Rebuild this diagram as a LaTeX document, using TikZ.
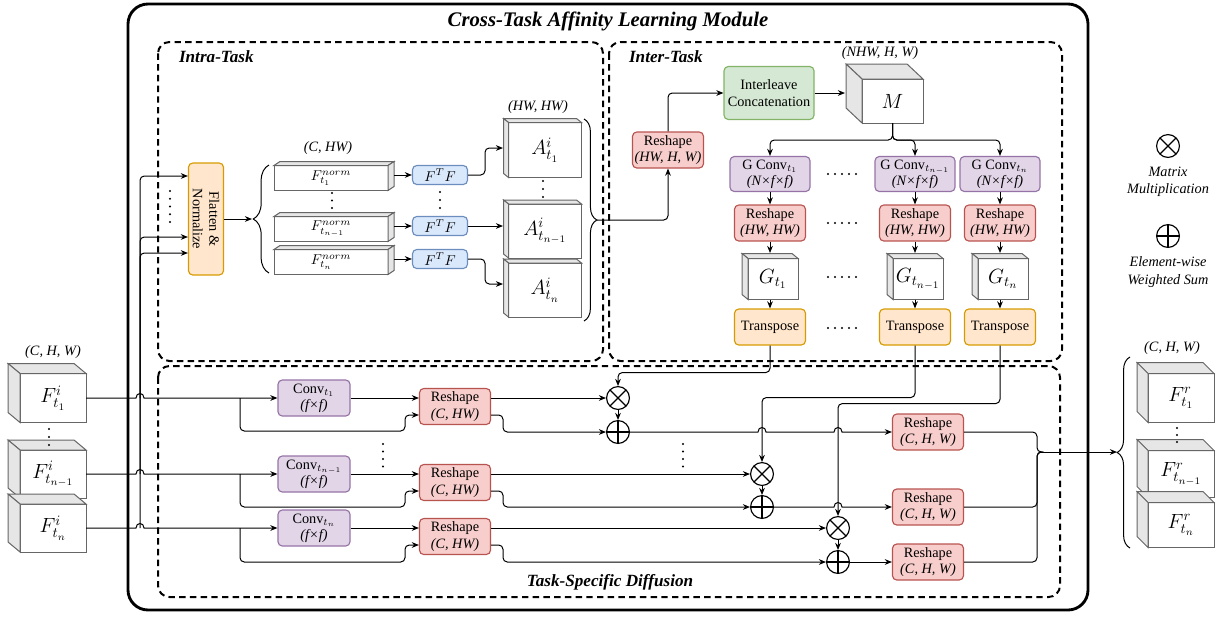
\documentclass[tikz,border=0pt]{standalone}
\usepackage[no-math]{fontspec}
\setmainfont{Liberation Serif}
\usetikzlibrary{arrows.meta,calc,decorations.pathreplacing}

\definecolor{redfill}{HTML}{F8CECC}
\definecolor{reddraw}{HTML}{B85450}
\definecolor{purfill}{HTML}{E1D5E7}
\definecolor{purdraw}{HTML}{9673A6}
\definecolor{orafill}{HTML}{FFE6CC}
\definecolor{oradraw}{HTML}{D79B00}
\definecolor{grefill}{HTML}{D5E8D4}
\definecolor{gredraw}{HTML}{82B366}
\definecolor{blufill}{HTML}{DAE8FC}
\definecolor{bludraw}{HTML}{6C8EBF}
\definecolor{cubedraw}{HTML}{666666}
\definecolor{cubeshade}{HTML}{E6E6E6}

\tikzset{
  sz/.style 2 args={minimum width=#1*0.7pt, minimum height=#2*0.7pt},
  opbox/.style={rounded corners=3pt, draw, line width=0.8pt, align=center, inner sep=0pt, font=\fontsize{10}{11.5}\selectfont},
  redbox/.style={opbox, draw=reddraw, fill=redfill, sz={71}{36}},
  purbox/.style={opbox, draw=purdraw, fill=purfill},
  orabox/.style={opbox, draw=oradraw, fill=orafill},
  grebox/.style={opbox, draw=gredraw, fill=grefill},
  blubox/.style={opbox, draw=bludraw, fill=blufill, sz={55}{19}},
  cubefront/.style={draw=cubedraw, fill=white, line width=0.7pt, outer sep=0pt, inner sep=0pt},
  cubeface/.style={draw=cubedraw, fill=cubeshade, line width=0.7pt},
  biglabel/.style={font=\fontsize{14.4}{16}\selectfont},
  arr/.style={-{Stealth[length=5pt,width=4pt]}, line width=0.7pt},
  conn/.style={line width=0.7pt},
  opcircle/.style={circle, draw, fill=white, line width=0.8pt, minimum size=16pt, inner sep=0pt},
  mulop/.style={opcircle, path picture={\draw[line width=0.8pt] (path picture bounding box.north west) -- (path picture bounding box.south east) (path picture bounding box.north east) -- (path picture bounding box.south west);}},
  addop/.style={opcircle, path picture={\draw[line width=0.8pt] (path picture bounding box.north) -- (path picture bounding box.south) (path picture bounding box.west) -- (path picture bounding box.east);}},
  dashbox/.style={line width=1.4pt, dash pattern=on 4.5pt off 3pt, rounded corners=8pt},
  dimlabel/.style={font=\itshape},
  sectlabel/.style={font=\large\bfseries\itshape},
}

% shaded faces of a tensor block: node, depth x, depth y, side
\newcommand{\cubefaces}[4]{%
  \filldraw[cubeface] (#1.north west) -- ++(#2,#3) -- ($(#1.north east)+(#2,#3)$) -- (#1.north east) -- cycle;
  \filldraw[cubeface] (#1.north #4) -- ++(#2,#3) -- ($(#1.south #4)+(#2,#3)$) -- (#1.south #4) -- cycle;}

\begin{document}
\begin{tikzpicture}[x=0.7pt, y=-0.7pt]
\useasboundingbox (0,0) rectangle (1219,616);

% frames
\draw [line width=2pt, rounded corners=14pt] (128,4) rectangle (1088,610);
\node [font=\fontsize{14.5}{17}\selectfont\bfseries\itshape] (title) at (608,21) {Cross-Task Affinity Learning Module};
\draw [dashbox] (158,42) rectangle (603,361);
\draw [dashbox] (609,42) rectangle (1062,361);
\draw [dashbox] (158,366) rectangle (1060,597);
\node [sectlabel, anchor=west] at (174,57) {Intra-Task};
\node [sectlabel, anchor=west] at (624,57) {Inter-Task};
\node [sectlabel] at (610,582) {Task-Specific Diffusion};

% input features
\node [cubefront, sz={66}{49}, biglabel] (in1) at (53,398) {$F^i_{t_1}$};
\cubefaces{in1}{-12}{-10}{west}
\node [cubefront, sz={66}{48}, biglabel] (in2) at (53,474) {$F^i_{t_{n-1}}$};
\cubefaces{in2}{-12}{-10}{west}
\node [cubefront, sz={66}{48}, biglabel] (in3) at (53,528) {$F^i_{t_n}$};
\cubefaces{in3}{-12}{-10}{west}
\node [dimlabel] at (53,352) {(C, H, W)};
\foreach \k in {0,1,2} \fill (49,429+\k*8) circle (0.75pt);

% intra-task
\node [orabox, sz={35}{112}] (flat) at (206,219) {};
\node [rotate=-90, align=center, font=\fontsize{10}{11.5}\selectfont] at (flat) {Flatten \&\\Normalize};
\foreach \k in {0,...,4} \fill (170,191+\k*7.75) circle (0.75pt);
\draw [arr, rounded corners=3pt] (140,398) -- (140,176) -- (flat.west |- 0,176);
\draw [arr, rounded corners=3pt] (140,474) -- (140,237) -- (flat.west |- 0,237);
\draw [arr, rounded corners=3pt] (140,528) -- (140,253) -- (flat.west |- 0,253);
\draw [arr] (flat.east) -- (252,219);
\draw [conn, decorate, decoration={brace, amplitude=11pt}] (269,273) -- (269,165);

\node [dimlabel] at (328,148) {(C, HW)};
\node [cubefront, sz={114}{25}] (n1) at (331,178) {$F^{norm}_{t_1}$};
\cubefaces{n1}{6}{-4}{east}
\node [cubefront, sz={114}{25}] (n2) at (331,229) {$F^{norm}_{t_{n-1}}$};
\cubefaces{n2}{6}{-4}{east}
\node [cubefront, sz={114}{25}] (n3) at (331,262) {$F^{norm}_{t_n}$};
\cubefaces{n3}{6}{-4}{east}
\foreach \k in {0,1,2} \fill (332,193+\k*7.5) circle (0.75pt);

\node [blubox] (f1) at (440,175) {$F^TF$};
\node [blubox] (f2) at (440,226) {$F^TF$};
\node [blubox] (f3) at (440,259) {$F^TF$};
\foreach \k in {0,1,2} \fill (440,192+\k*8) circle (0.75pt);
\draw [arr] (f1.west -| 394,0) -- (f1.west);
\draw [arr] (f2.west -| 394,0) -- (f2.west);
\draw [arr] (f3.west -| 394,0) -- (f3.west);

\node [dimlabel] at (538,107) {(HW, HW)};
\node [cubefront, sz={73}{55}, biglabel] (A1) at (545,150) {$A^i_{t_1}$};
\cubefaces{A1}{-5}{-4}{west}
\node [cubefront, sz={73}{54}, biglabel] (A2) at (545,231) {$A^i_{t_{n-1}}$};
\cubefaces{A2}{-5}{-4}{west}
\node [cubefront, sz={73}{54}, biglabel] (A3) at (545,290) {$A^i_{t_n}$};
\cubefaces{A3}{-5}{-4}{west}
\foreach \k in {0,1,2} \fill (543,181+\k*8) circle (0.75pt);
\draw [arr, rounded corners=3pt] (f1.east) -- (485,175) -- (485,148) -- (503,148);
\draw [arr] (f2.east) -- (503,226);
\draw [arr, rounded corners=3pt] (f3.east) -- (485,259) -- (485,284) -- (503,284);
\draw [conn, decorate, decoration={brace, amplitude=9pt}] (584,119) -- (584,321);

% inter-task
\node [redbox] (rsA) at (668,150) {Reshape\\\textit{(HW, H, W)}};
\node [grebox, sz={90}{53}] (cat) at (769,93) {Interleave\\Concatenation};
\node [cubefront, sz={61}{44}, biglabel] (M) at (892.5,101) {$M$};
\cubefaces{M}{-16}{-15}{west}
\node [dimlabel] at (880,53) {(NHW, H, W)};
\draw [arr, rounded corners=3pt] (597,220) -| (rsA.south);
\draw [arr, rounded corners=3pt] (rsA.north) |- (cat.west);
\draw [arr] (cat.east) -- (845,93);

\node [purbox, sz={80}{35}] (gc1) at (770,174) {G Conv$_{t_1}$\\\textit{(N×f×f)}};
\node [purbox, sz={80}{35}] (gc2) at (915,174) {G Conv$_{t_{n-1}}$\\\textit{(N×f×f)}};
\node [purbox, sz={80}{35}] (gc3) at (1000,174) {G Conv$_{t_n}$\\\textit{(N×f×f)}};
\draw [arr, rounded corners=3pt] (M.south) -- ++(0,17) -| (gc1.north);
\draw [arr, rounded corners=3pt] (M.south) -- ++(0,17) -| (gc2.north);
\draw [arr, rounded corners=3pt] (M.south) -- ++(0,17) -| (gc3.north);

\node [redbox] (rh1) at (770,223) {Reshape\\\textit{(HW, HW)}};
\node [redbox] (rh2) at (915,223) {Reshape\\\textit{(HW, HW)}};
\node [redbox] (rh3) at (1000,223) {Reshape\\\textit{(HW, HW)}};
\draw [arr] (gc1) -- (rh1);
\draw [arr] (gc2) -- (rh2);
\draw [arr] (gc3) -- (rh3);

\node [cubefront, sz={50}{41}, biglabel] (g1) at (773,279) {$G_{t_1}$};
\cubefaces{g1}{-6}{-5}{west}
\node [cubefront, sz={50}{41}, biglabel] (g2) at (918,279) {$G_{t_{n-1}}$};
\cubefaces{g2}{-6}{-5}{west}
\node [cubefront, sz={50}{41}, biglabel] (g3) at (1003,279) {$G_{t_n}$};
\cubefaces{g3}{-6}{-5}{west}
\draw [arr] (rh1.south) -- (770,253);
\draw [arr] (rh2.south) -- (915,253);
\draw [arr] (rh3.south) -- (1000,253);

\node [orabox, sz={71}{36}] (tr1) at (770,327) {Transpose};
\node [orabox, sz={71}{36}] (tr2) at (915,327) {Transpose};
\node [orabox, sz={71}{36}] (tr3) at (1000,327) {Transpose};
\draw [arr] (tr1.north |- g1.south) -- (tr1.north);
\draw [arr] (tr2.north |- g2.south) -- (tr2.north);
\draw [arr] (tr3.north |- g3.south) -- (tr3.north);
\foreach \y in {174,223,277,328} \foreach \k in {0,...,4} \fill (828+\k*7,\y) circle (0.75pt);

% task-specific diffusion
\node [purbox, sz={72}{36}] (cv1) at (314,398) {Conv$_{t_1}$\\\textit{(f×f)}};
\node [purbox, sz={72}{36}] (cv2) at (314,474) {Conv$_{t_{n-1}}$\\\textit{(f×f)}};
\node [purbox, sz={72}{36}] (cv3) at (314,528) {Conv$_{t_n}$\\\textit{(f×f)}};
\node [redbox] (rs1) at (455,406.5) {Reshape\\\textit{(C, HW)}};
\node [redbox] (rs2) at (455,482.5) {Reshape\\\textit{(C, HW)}};
\node [redbox] (rs3) at (455,536.5) {Reshape\\\textit{(C, HW)}};
\node [mulop] (m1) at (618,398) {};
\node [addop] (a1) at (618,432) {};
\node [mulop] (m2) at (762,474) {};
\node [addop] (a2) at (762,507) {};
\node [mulop] (m3) at (838,528) {};
\node [addop] (a3) at (838,562) {};
\node [redbox] (ro1) at (928,432) {Reshape\\\textit{(C, H, W)}};
\node [redbox] (ro2) at (928,507) {Reshape\\\textit{(C, H, W)}};
\node [redbox] (ro3) at (928,562) {Reshape\\\textit{(C, H, W)}};
\foreach \k in {0,...,3} \fill (383,444+\k*7.5) circle (0.75pt);
\foreach \k in {0,...,3} \fill (683,444+\k*7.5) circle (0.75pt);

% row t_1
\draw [arr] (in1.east) -- (136,398) .. controls +(0,-6) and +(0,-6) .. (144,398) -- (cv1.west);
\draw [arr, rounded corners=3pt] (240,398) -- (240,431) -- (405,431) -- (405,415) -- ($(rs1.west)+(0,8.5)$);
\draw [arr] (cv1.east) -- ($(rs1.west)+(0,-8.5)$);
\draw [arr] ($(rs1.east)+(0,-8.5)$) -- (m1.west);
\draw [arr, rounded corners=3pt] ($(rs1.east)+(0,8.5)$) -- (503,415) -- (503,432) -- (a1.west);
\draw [arr] (m1) -- (a1);
\draw [arr] (a1.east) -- (758,432) .. controls +(0,-6) and +(0,-6) .. (766,432) -- (834,432) .. controls +(0,-6) and +(0,-6) .. (842,432) -- (ro1.west);

% row t_{n-1}
\draw [arr] (in2.east) -- (136,474) .. controls +(0,-6) and +(0,-6) .. (144,474) -- (cv2.west);
\draw [arr, rounded corners=3pt] (240,474) -- (240,507) -- (405,507) -- (405,491) -- ($(rs2.west)+(0,8.5)$);
\draw [arr] (cv2.east) -- ($(rs2.west)+(0,-8.5)$);
\draw [arr] ($(rs2.east)+(0,-8.5)$) -- (m2.west);
\draw [arr, rounded corners=3pt] ($(rs2.east)+(0,8.5)$) -- (503,491) -- (503,507) -- (a2.west);
\draw [arr] (m2) -- (a2);
\draw [arr] (a2.east) -- (834,507) .. controls +(0,-6) and +(0,-6) .. (842,507) -- (ro2.west);

% row t_n
\draw [arr] (in3.east) -- (136,528) .. controls +(0,-6) and +(0,-6) .. (144,528) -- (cv3.west);
\draw [arr, rounded corners=3pt] (240,528) -- (240,562) -- (405,562) -- (405,545) -- ($(rs3.west)+(0,8.5)$);
\draw [arr] (cv3.east) -- ($(rs3.west)+(0,-8.5)$);
\draw [arr] ($(rs3.east)+(0,-8.5)$) -- (m3.west);
\draw [arr, rounded corners=3pt] ($(rs3.east)+(0,8.5)$) -- (503,545) -- (503,562) -- (a3.west);
\draw [arr] (m3) -- (a3);
\draw [arr] (a3.east) -- (ro3.west);

% affinity maps into the products
\draw [arr, rounded corners=3pt] (tr1.south) -- ++(0,27) -| (m1.north);
\draw [arr, rounded corners=3pt] (tr2.south) -- ++(0,52) -| (m2.north);
\draw [arr, rounded corners=3pt] (tr3.south) -- ++(0,58) -| (m3.north);

% outputs
\coordinate (jn) at (1041,452);
\draw [conn, rounded corners=3pt] (ro1.east) -- (1037,432) -- (1037,452) -- (jn);
\draw [conn, rounded corners=3pt] (ro2.east) -- (1037,507) -- (1037,452) -- (jn);
\draw [conn, rounded corners=3pt] (ro3.east) -- (1037,562) -- (1037,452) -- (jn);
\draw [arr] (jn) -- (1117,452);
\draw [conn, decorate, decoration={brace, amplitude=9pt}] (1130,548) -- (1130,357);
\node [dimlabel] at (1172,348) {(C, H, W)};
\node [cubefront, sz={66}{49}, biglabel] (o1) at (1181,398) {$F^r_{t_1}$};
\cubefaces{o1}{-11}{-11}{west}
\node [cubefront, sz={66}{47}, biglabel] (o2) at (1181,474) {$F^r_{t_{n-1}}$};
\cubefaces{o2}{-11}{-11}{west}
\node [cubefront, sz={66}{45}, biglabel] (o3) at (1181,525) {$F^r_{t_n}$};
\cubefaces{o3}{-11}{-11}{west}
\foreach \k in {0,1,2} \fill (1177,428+\k*7) circle (0.75pt);

% legend
\node [mulop] (lmul) at (1168,146) {};
\node [font=\itshape, align=center] at (1168,182) {Matrix\\Multiplication};
\node [addop] (ladd) at (1168,236) {};
\node [font=\itshape, align=center] at (1168,272) {Element-wise\\Weighted Sum};
\end{tikzpicture}
\end{document}
